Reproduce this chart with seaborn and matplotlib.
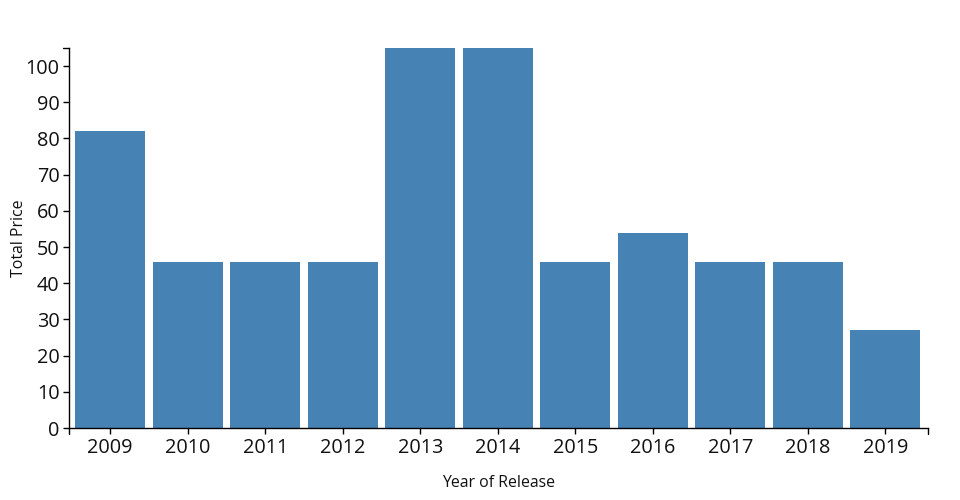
import matplotlib
matplotlib.use("Agg")
import matplotlib.pyplot as plt
import seaborn as sns
import pandas as pd

years = ["2009", "2010", "2011", "2012", "2013", "2014", "2015", "2016", "2017", "2018", "2019"]
total_price = [82, 46, 46, 46, 105, 105, 46, 54, 46, 46, 27]

sns.set_style("white")
plt.rcParams["font.family"] = ["Open Sans", "DejaVu Sans"]

df = pd.DataFrame({"year": years, "price": total_price})

fig = plt.figure(figsize=(9.6, 5), dpi=100)
ax = fig.add_axes([69 / 960, 72 / 500, 859 / 960, 380 / 500])
sns.barplot(data=df, x="year", y="price", color="#4682b4", saturation=1,
            width=0.9, linewidth=0, ax=ax)

ax.set_ylim(0, 105)
ax.set_xlim(-0.53, 10.55)
ax.set_yticks(range(0, 101, 10))
sns.despine(ax=ax)
for s in ("left", "bottom"):
    ax.spines[s].set_linewidth(1)
    ax.spines[s].set_color("black")
ax.tick_params(axis="both", length=4.3, width=1, color="black", labelsize=14.3,
               labelcolor="#111111", direction="out", bottom=True, left=True)
ax.tick_params(axis="y", pad=2.5)
ax.tick_params(axis="x", pad=3)

# d3-style outer ticks at the ends of the domain
kw = dict(transform=ax.transAxes, clip_on=False, color="black", lw=1)
tx = 6 / 859
ty = 6 / 380
ax.plot([0, 0], [0, -ty], **kw)
ax.plot([1, 1], [0, -ty], **kw)
ax.plot([-tx, 0], [1, 1], **kw)

ax.set_xlabel("Year of Release", fontsize=11.4, color="#111111")
ax.set_ylabel("Total Price", fontsize=11.4, color="#111111")
ax.xaxis.set_label_coords(0.5, -0.124)
ax.yaxis.set_label_coords(-0.049, 0.5)

fig.savefig("out.png", dpi=100)
